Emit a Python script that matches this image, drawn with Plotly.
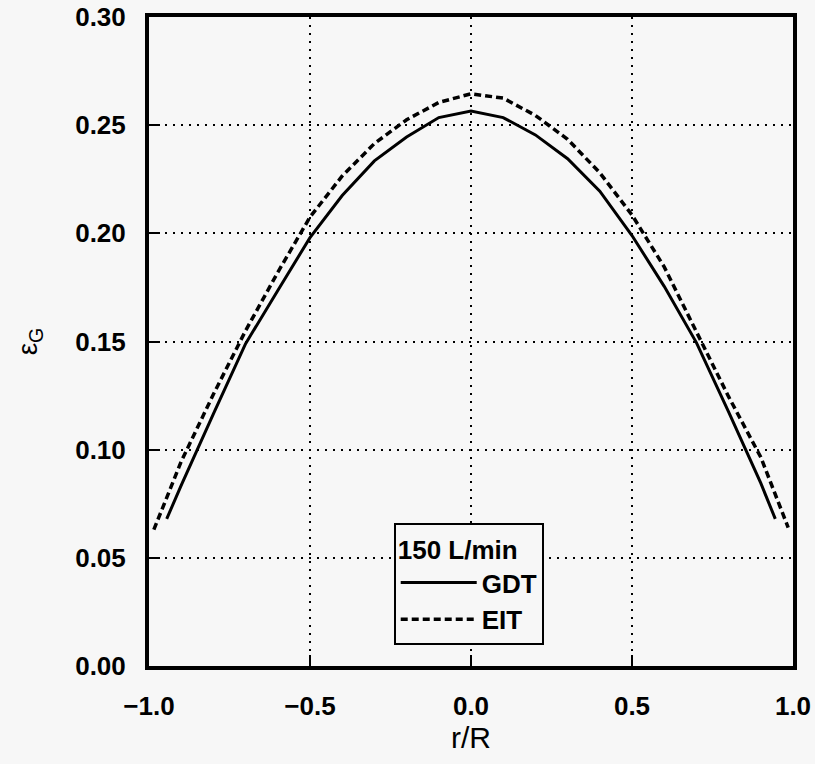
"""Radial gas holdup profile: GDT vs EIT at 150 L/min."""

import plotly.graph_objects as go

# r/R positions and gas holdup
r_gdt = [-0.945, -0.9, -0.8, -0.7, -0.6, -0.5, -0.4, -0.3, -0.2, -0.1, 0.0,
         0.1, 0.2, 0.3, 0.4, 0.5, 0.6, 0.7, 0.8, 0.9, 0.945]
eps_gdt = [0.068, 0.0835, 0.1166, 0.149, 0.1736, 0.198, 0.2175, 0.2335, 0.2445, 0.2535, 0.2565,
           0.2535, 0.2455, 0.2345, 0.2195, 0.199, 0.1755, 0.1495, 0.1175, 0.0845, 0.068]

r_eit = [-0.985, -0.9, -0.8, -0.7, -0.6, -0.5, -0.4, -0.3, -0.2, -0.1, 0.0,
         0.1, 0.2, 0.3, 0.4, 0.5, 0.6, 0.7, 0.8, 0.9, 0.985]
eps_eit = [0.063, 0.0945, 0.1256, 0.155, 0.182, 0.2075, 0.2265, 0.2415, 0.2525, 0.2605, 0.2645,
           0.2625, 0.2545, 0.2435, 0.228, 0.2085, 0.1845, 0.1545, 0.1245, 0.0965, 0.064]

x_range = [-1.0, 1.0]
y_range = [0.0, 0.30]

FONT = "Liberation Sans, Arial, sans-serif"
BG = "#f7f7f7"

fig = go.Figure()
fig.add_trace(go.Scatter(
    x=r_gdt, y=eps_gdt, mode="lines", name="GDT",
    line=dict(color="black", width=3),
))
fig.add_trace(go.Scatter(
    x=r_eit, y=eps_eit, mode="lines", name="EIT",
    line=dict(color="black", width=3.5, dash="7px,4px"),
))

axis_common = dict(
    showline=True, linecolor="black", linewidth=4, mirror=True,
    ticks="inside", ticklen=11, tickwidth=2, tickcolor="black",
    showgrid=True, gridcolor="black", gridwidth=2, griddash="2px,6px",
    zeroline=False, automargin=False, tickmode="linear",
    tickfont=dict(family=FONT, size=26, color="black", weight="bold"),
    ticklabelstandoff=14,
)
# blank free axes pinned to each frame edge; their "outside" ticks point into the plot
tick_common = dict(
    showline=False, ticks="outside", ticklen=8, tickwidth=2, tickcolor="black",
    showgrid=False, zeroline=False, showticklabels=False,
    automargin=False, tickmode="linear", anchor="free",
)

fig.update_layout(
    xaxis=dict(
        **axis_common, range=x_range, tick0=-1.0, dtick=0.5, tickformat=".1f",
        title=dict(text="r/R", font=dict(family=FONT, size=30, color="black"), standoff=6),
    ),
    yaxis=dict(
        **axis_common, range=y_range, tick0=0.0, dtick=0.05, tickformat=".2f",
        title=dict(text="ε<sub>G</sub>", font=dict(family=FONT, size=28, color="black"), standoff=30),
    ),
    xaxis2=dict(**tick_common, range=x_range, tick0=-1.0, dtick=0.1,
                overlaying="x", position=0.0, side="top"),
    xaxis3=dict(**tick_common, range=x_range, tick0=-1.0, dtick=0.1,
                overlaying="x", position=1.0, side="bottom"),
    yaxis2=dict(**tick_common, range=y_range, tick0=0.0, dtick=0.01,
                overlaying="y", position=0.0, side="right"),
    yaxis3=dict(**tick_common, range=y_range, tick0=0.0, dtick=0.01,
                overlaying="y", position=1.0, side="left"),
    width=815, height=764,
    margin=dict(l=149, r=22, t=17, b=98),
    paper_bgcolor=BG, plot_bgcolor=BG,
    font=dict(family=FONT, color="black"),
    showlegend=True,
    legend=dict(
        title=dict(text="150 L/min", font=dict(family=FONT, size=26, color="black", weight="bold")),
        font=dict(family=FONT, size=26, color="black", weight="bold"),
        x=0.38, y=0.22, xanchor="left", yanchor="top",
        bgcolor=BG, bordercolor="black", borderwidth=2,
        itemwidth=76, tracegroupgap=0,
    ),
)

# drop the default body margin so the figure fills the window exactly
fig.write_html(
    "out.html",
    config={"displayModeBar": False},
    post_script="document.body.style.margin='0';document.body.style.overflow='hidden';",
)
